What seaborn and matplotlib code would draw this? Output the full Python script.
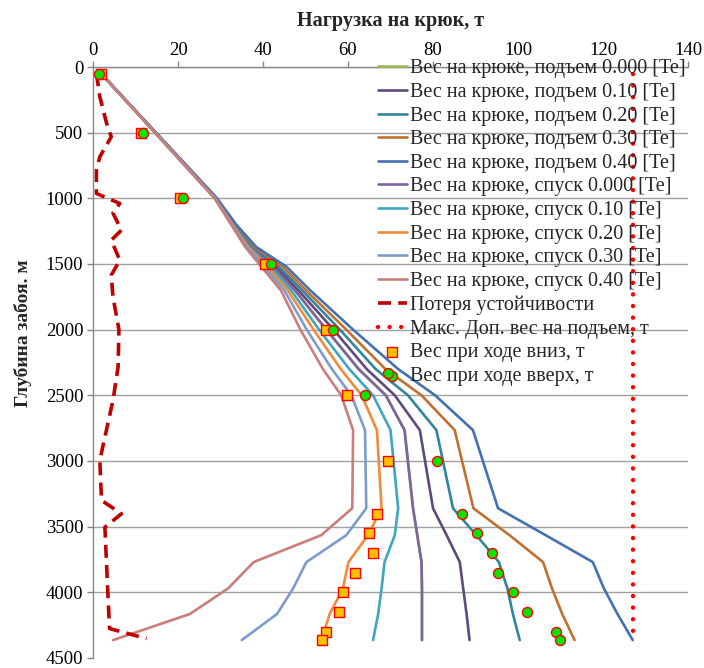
import matplotlib
matplotlib.use("Agg")
import matplotlib.pyplot as plt
import numpy as np
import pandas as pd
import seaborn as sns

sns.set_theme(style="white")
plt.rcParams["font.family"] = ["Liberation Serif", "DejaVu Serif"]

# depth stations (m) for the hook-load curves
depth = [50, 1000, 1200, 1370, 1520, 1700, 2000, 2300, 2500, 2765,
         3360, 3565, 3770, 3970, 4165, 4364]

# hook load, t
up_000 = [1.9, 28.9, 33.0, 37.0, 42.4, 47.5, 54.9, 62.5, 68.9, 73.3,
          75.3, 76.3, 77.3, 77.4, 77.4, 77.4]
up_010 = [1.9, 29.0, 33.2, 37.3, 43.0, 48.3, 56.6, 64.4, 71.0, 76.9,
          80.0, 83.2, 86.3, 87.1, 87.9, 88.6]
up_020 = [1.9, 29.0, 33.3, 37.6, 43.7, 49.2, 58.1, 66.5, 74.1, 80.8,
          84.7, 90.2, 95.5, 97.5, 98.8, 100.4]
up_030 = [1.9, 29.1, 33.5, 38.0, 44.6, 50.1, 59.6, 68.8, 77.3, 85.1,
          89.5, 98.0, 105.9, 108.0, 110.4, 113.3]
up_040 = [1.9, 29.2, 33.7, 38.4, 45.5, 51.1, 61.2, 71.8, 80.5, 89.4,
          95.3, 106.5, 117.6, 120.2, 123.4, 127.0]
dn_000 = up_000
dn_010 = [1.9, 28.8, 32.9, 36.7, 41.7, 46.6, 53.2, 60.3, 65.9, 70.0,
          71.8, 71.0, 68.6, 67.9, 67.1, 65.9]
dn_020 = [1.9, 28.7, 32.8, 36.4, 41.0, 45.8, 51.9, 58.3, 63.2, 66.8,
          67.9, 64.7, 60.1, 58.8, 55.7, 53.7]
dn_030 = [1.9, 28.7, 32.6, 36.1, 40.3, 45.0, 50.3, 56.2, 60.8, 64.0,
          64.3, 59.6, 50.2, 47.1, 43.3, 35.0]
dn_040 = [1.9, 28.6, 32.5, 35.8, 39.6, 44.2, 48.8, 54.1, 58.4, 61.2,
          61.0, 53.7, 37.8, 31.8, 22.8, 4.7]

# buckling limit
buck_depth = [48, 226, 429, 531, 684, 785, 963, 1039, 1113, 1242, 1319,
              1471, 1585, 1751, 2000, 2284, 2538, 2995, 3300, 3402, 3504,
              4010, 4276, 4352]
buck_load = [0.8, 1.6, 3.2, 4.3, 1.6, 0.8, 0.8, 6.3, 4.7, 6.7, 4.3,
             6.3, 4.3, 4.7, 6.1, 5.9, 4.7, 1.6, 2.0, 6.7, 2.8,
             3.5, 3.9, 12.6]

max_depth = [50, 4364]
max_load = [127, 127]

# measured weights
down_depth = [50, 500, 1000, 1500, 2000, 2500, 3000, 3400, 3550, 3700,
              3850, 4000, 4150, 4300, 4364]
down_load = [1.9, 11.3, 20.4, 40.4, 54.9, 59.8, 69.4, 66.8, 64.9, 65.9,
             61.6, 58.8, 57.8, 54.9, 53.9]
up_depth = [50, 500, 1000, 1500, 2000, 2330, 2500, 3000, 3400, 3550,
            3700, 3850, 4000, 4150, 4300, 4364]
up_load = [1.4, 11.7, 21.2, 41.8, 56.5, 69.3, 63.9, 81.0, 86.8, 90.4,
           93.9, 95.4, 98.8, 102.0, 108.9, 109.8]

series = [
    ("Вес на крюке, подъем 0.000 [Te]", up_000, "#9BBB59"),
    ("Вес на крюке, подъем 0.10 [Te]", up_010, "#5F4A7B"),
    ("Вес на крюке, подъем 0.20 [Te]", up_020, "#31859C"),
    ("Вес на крюке, подъем 0.30 [Te]", up_030, "#C0702F"),
    ("Вес на крюке, подъем 0.40 [Te]", up_040, "#4472B0"),
    ("Вес на крюке, спуск 0.000 [Te]", dn_000, "#7F63A1"),
    ("Вес на крюке, спуск 0.10 [Te]", dn_010, "#40A6BF"),
    ("Вес на крюке, спуск 0.20 [Te]", dn_020, "#F08A3C"),
    ("Вес на крюке, спуск 0.30 [Te]", dn_030, "#7C9DCB"),
    ("Вес на крюке, спуск 0.40 [Te]", dn_040, "#C97E7C"),
]

fig = plt.figure(figsize=(7.04, 6.68), dpi=100)
ax = fig.add_axes([0.1321, 0.015, 0.8452, 0.8847])

for name, vals, col in series:
    sns.lineplot(x=vals, y=depth, sort=False, estimator=None, color=col,
                 linewidth=1.9, label=name, ax=ax)

sns.lineplot(x=buck_load, y=buck_depth, sort=False, estimator=None,
             color="#C00000", linewidth=2.6, linestyle=(0, (3.6, 2.0)),
             label="Потеря устойчивости", ax=ax)
sns.lineplot(x=max_load, y=max_depth, sort=False, estimator=None,
             color="#FF0000", linewidth=3.2, linestyle=(0, (0.01, 2.6)),
             dash_capstyle="round", label="Макс. Доп. вес на подъем, т", ax=ax)
sns.scatterplot(x=down_load, y=down_depth, marker="s", s=48,
                color="#FFC000", edgecolor="#FF0000", linewidth=1.0,
                label="Вес при ходе вниз, т", ax=ax, zorder=5)
sns.scatterplot(x=up_load, y=up_depth, marker="o", s=52,
                color="#00E600", edgecolor="#FF0000", linewidth=1.0,
                label="Вес при ходе вверх, т", ax=ax, zorder=6)

ax.set_xlim(0, 140)
ax.set_ylim(4500, 0)
ax.set_xticks(np.arange(0, 141, 20))
ax.set_yticks(np.arange(0, 4501, 500))
ax.xaxis.tick_top()
ax.xaxis.set_label_position("top")
ax.set_xlabel("Нагрузка на крюк, т", fontsize=14.5, fontweight="bold",
              labelpad=11)
ax.set_ylabel("Глубина забоя. м", fontsize=14, fontweight="bold")
ax.yaxis.set_label_coords(-0.102, 0.55)
ax.tick_params(axis="both", labelsize=13.5, colors="#868686",
               labelcolor="black", length=4, width=1, direction="out")
ax.tick_params(axis="x", top=True, bottom=False, pad=2)
ax.tick_params(axis="y", left=True, pad=3)

ax.grid(axis="y", color="#A0A0A0", linewidth=1)
ax.grid(axis="x", visible=False)
ax.yaxis.get_gridlines()[-1].set_visible(False)
for side in ["right", "bottom"]:
    ax.spines[side].set_visible(False)
for side in ["left", "top"]:
    ax.spines[side].set_color("#868686")
    ax.spines[side].set_linewidth(1)

ax.legend(loc="upper left", bbox_to_anchor=(0.455, 1.037), frameon=False,
          fontsize=14.5, labelspacing=0.225, handlelength=1.45,
          handletextpad=0.15, borderpad=0.2)

fig.savefig("out.png", dpi=100)
